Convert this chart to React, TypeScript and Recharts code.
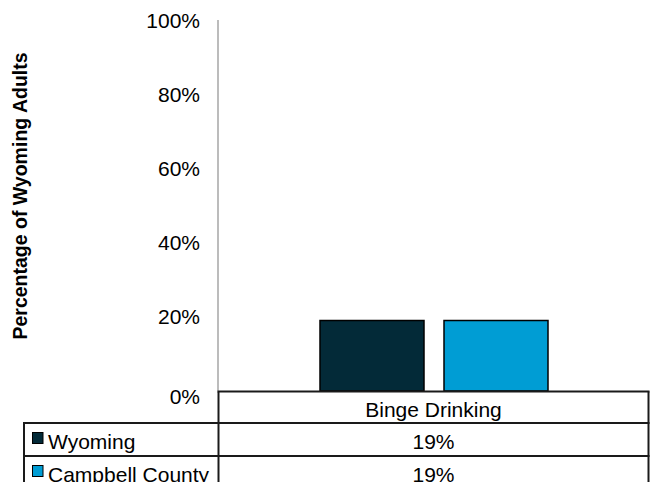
import React from 'react';
import { Bar, BarChart, XAxis, YAxis } from 'recharts';

// Chart values
const categories = ['Binge Drinking'];
const seriesNames = ['Wyoming', 'Campbell County'];
const wyomingValues = [0.19];
const campbellValues = [0.19];
const seriesColors = ['#032a38', '#009dd4'];
const yTicks = [0, 0.2, 0.4, 0.6, 0.8, 1];

const data = categories.map((category, i) => ({
  category,
  [seriesNames[0]]: wyomingValues[i],
  [seriesNames[1]]: campbellValues[i],
}));

const seriesValues = [wyomingValues, campbellValues];

const FONT = '"Liberation Sans", Arial, sans-serif';
const pct = (v: number) => `${Math.round(v * 100)}%`;

// Y tick, the 0% label sits a little lower like in Excel
const YTick = ({ x, y, payload }: any) => (
  <text
    x={x}
    y={payload.value === 0 ? y + 5 : y}
    textAnchor="end"
    dominantBaseline="central"
    fontFamily={FONT}
    fontSize={21}
    fill="#000"
  >
    {pct(payload.value)}
  </text>
);

const AxisTitle = () => (
  <text
    x={20}
    y={196}
    transform="rotate(-90 20 196)"
    textAnchor="middle"
    dominantBaseline="central"
    fontFamily={FONT}
    fontSize={19.5}
    fontWeight="bold"
    fill="#000"
  >
    Percentage of Wyoming Adults
  </text>
);

// Data table under the plot
const DataTable = () => {
  const line = '#1a1a1a';
  const left = 24;
  const mid = 218.5;
  const right = 648.5;
  const top = 391.5;
  const rowH = 33;
  return (
    <svg
      width={652}
      height={482}
      style={{ position: 'absolute', left: 0, top: 0, pointerEvents: 'none' }}
    >
      <line x1={mid - 1} y1={top} x2={right + 1} y2={top} stroke={line} strokeWidth={2} />
      <line x1={mid} y1={top} x2={mid} y2={482} stroke={line} strokeWidth={2} />
      <line x1={right} y1={top} x2={right} y2={482} stroke={line} strokeWidth={2} />
      {categories.map((c) => (
        <text
          key={c}
          x={(mid + right) / 2}
          y={417}
          textAnchor="middle"
          fontFamily={FONT}
          fontSize={21}
          fill="#000"
        >
          {c}
        </text>
      ))}
      {seriesNames.map((name, r) => {
        const y0 = top + 31.5 + r * rowH;
        return (
          <g key={name}>
            <line x1={left - 1} y1={y0} x2={right + 1} y2={y0} stroke={line} strokeWidth={2} />
            <line x1={left} y1={y0} x2={left} y2={482} stroke={line} strokeWidth={2} />
            <rect
              x={32.5}
              y={y0 + 9.5}
              width={10.5}
              height={11}
              fill={seriesColors[r]}
              stroke="#000"
              strokeWidth={1}
            />
            <text x={48} y={y0 + 25.5} fontFamily={FONT} fontSize={21} fill="#000">
              {name}
            </text>
            {seriesValues[r].map((v, i) => (
              <text
                key={i}
                x={(mid + right) / 2}
                y={y0 + 26}
                textAnchor="middle"
                fontFamily={FONT}
                fontSize={21}
                fill="#000"
              >
                {pct(v)}
              </text>
            ))}
          </g>
        );
      })}
    </svg>
  );
};

export default function App() {
  return (
    <div
      style={{
        position: 'absolute',
        left: 0,
        top: 0,
        width: 652,
        height: 482,
        background: '#fff',
        overflow: 'hidden',
      }}
    >
      <BarChart
        width={652}
        height={482}
        data={data}
        margin={{ top: 20, right: 3, left: 0, bottom: 91 }}
        barSize={104}
        barGap={20}
      >
        <XAxis dataKey="category" hide />
        <YAxis
          width={218}
          domain={[0, 1]}
          ticks={yTicks}
          interval={0}
          tickLine={false}
          tickMargin={12}
          tick={<YTick />}
          axisLine={{ stroke: '#a6a6a6', strokeWidth: 1.5 }}
          label={{ content: () => <AxisTitle /> }}
        />
        {seriesNames.map((name, i) => (
          <Bar
            key={name}
            dataKey={name}
            fill={seriesColors[i]}
            stroke="#000"
            strokeWidth={1.5}
            isAnimationActive={false}
          />
        ))}
      </BarChart>
      <DataTable />
    </div>
  );
}
